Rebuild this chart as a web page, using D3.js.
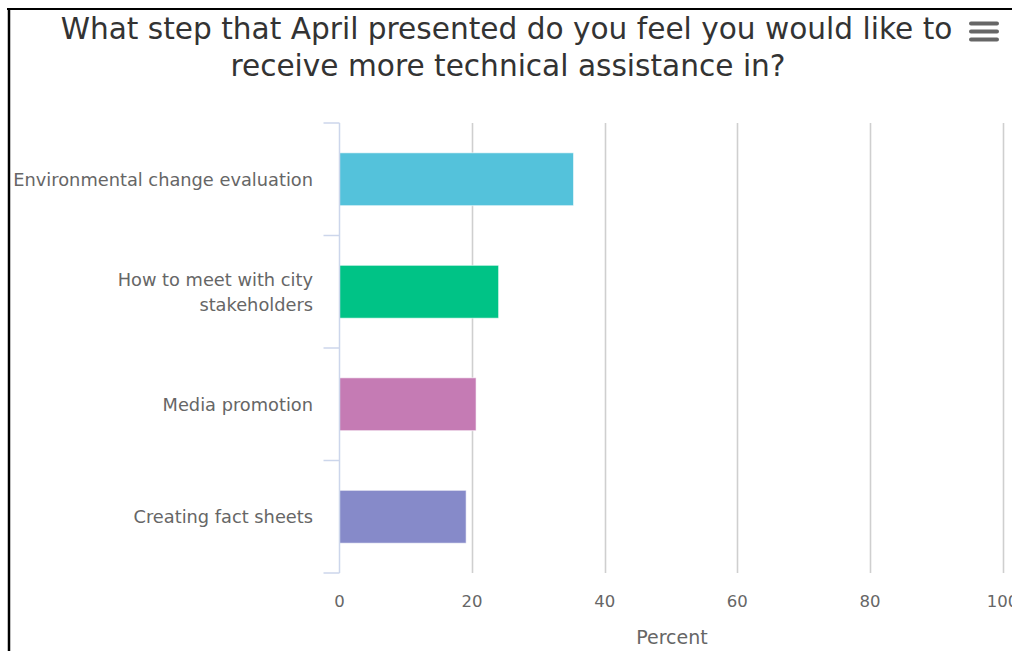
<!DOCTYPE html>
<html>
<head>
<meta charset="utf-8">
<script src="https://cdn.jsdelivr.net/npm/d3@7"></script>
<style>
  html, body { margin: 0; padding: 0; background: #fff; }
  svg { display: block; }
</style>
</head>
<body>
<svg id="chart" width="1012" height="651"></svg>
<script>
const categories = [
  ["Environmental change evaluation"],
  ["How to meet with city", "stakeholders"],
  ["Media promotion"],
  ["Creating fact sheets"]
];
const values = [35.3, 24.0, 20.6, 19.1];
const barColors = ["#54c2db", "#00c386", "#c57bb4", "#868ac9"];
const xTicks = [0, 20, 40, 60, 80, 100];
const titleLines = [
  "What step that April presented do you feel you would like to",
  "receive more technical assistance in?"
];
const xAxisTitle = "Percent";

(function () {
const svg = d3.select("#chart");
const font = "'DejaVu Sans', Verdana, sans-serif";

// frame
svg.append("rect").attr("x", 0).attr("y", 0).attr("width", 1012).attr("height", 651).attr("fill", "#fff");
svg.append("line").attr("x1", 7).attr("x2", 1012).attr("y1", 9).attr("y2", 9).attr("stroke", "#000").attr("stroke-width", 2);
svg.append("line").attr("x1", 9).attr("x2", 9).attr("y1", 8).attr("y2", 651).attr("stroke", "#000").attr("stroke-width", 2.5);

const pLeft = 339.5, pRight = 1002.5, pTop = 123, pBottom = 573;
const x = d3.scaleLinear().domain([0, 100]).range([pLeft, pRight]);
const y = d3.scaleBand().domain(d3.range(categories.length)).range([pTop, pBottom]).paddingInner(0.53).paddingOuter(0.265);
const yb = d3.scaleBand().domain(d3.range(categories.length)).range([pTop, pBottom]);

// gridlines
svg.append("g").selectAll("line").data(xTicks.slice(1)).join("line")
  .attr("x1", d => Math.round(x(d)) + 0.5).attr("x2", d => Math.round(x(d)) + 0.5)
  .attr("y1", pTop).attr("y2", pBottom)
  .attr("stroke", "#cfcfcf").attr("stroke-width", 1.6);

// bars
svg.append("g").selectAll("rect").data(values).join("rect")
  .attr("x", x(0))
  .attr("y", (d, i) => y(i))
  .attr("width", d => x(d) - x(0))
  .attr("height", y.bandwidth())
  .attr("fill", (d, i) => barColors[i])
  .attr("stroke", "#ffffff").attr("stroke-opacity", 0.6).attr("stroke-width", 1);

// y axis line and ticks
const yAxis = svg.append("g");
yAxis.append("line").attr("x1", pLeft).attr("x2", pLeft).attr("y1", pTop).attr("y2", pBottom)
  .attr("stroke", "#ccd6eb").attr("stroke-width", 1.5);
const boundaries = d3.range(categories.length + 1).map(i => i < categories.length ? yb(i) : pBottom);
yAxis.selectAll("line.tick").data(boundaries).join("line").attr("class", "tick")
  .attr("x1", pLeft - 16).attr("x2", pLeft).attr("y1", d => d).attr("y2", d => d)
  .attr("stroke", "#ccd6eb").attr("stroke-width", 1.5);

// category labels
const lbl = svg.append("g").attr("font-family", font).attr("font-size", 17.8).attr("fill", "#666").attr("text-anchor", "end");
categories.forEach((lines, i) => {
  const cy = yb(i) + yb.bandwidth() / 2;
  const lh = 25.5;
  const t = lbl.append("text").attr("x", 313).attr("y", cy - (lines.length - 1) * lh / 2 + 6.5);
  lines.forEach((ln, j) => {
    t.append("tspan").attr("x", 313).attr("dy", j === 0 ? 0 : lh).text(ln);
  });
});

// x tick labels
svg.append("g").selectAll("text").data(xTicks).join("text")
  .attr("x", d => x(d)).attr("y", 607)
  .attr("text-anchor", "middle")
  .attr("font-family", font).attr("font-size", 16.5).attr("fill", "#666")
  .text(d => d);

// axis title
svg.append("text").attr("x", 672).attr("y", 644)
  .attr("text-anchor", "middle").attr("font-family", font).attr("font-size", 19).attr("fill", "#666")
  .text(xAxisTitle);

// title
const tt = svg.append("text").attr("text-anchor", "middle").attr("font-family", font).attr("font-size", 29.6).attr("fill", "#333");
tt.append("tspan").attr("x", 506.5).attr("y", 39).text(titleLines[0]);
tt.append("tspan").attr("x", 508).attr("y", 76).text(titleLines[1]);

// menu icon
svg.append("g").selectAll("line").data([0, 1, 2]).join("line")
  .attr("x1", 971).attr("x2", 997)
  .attr("y1", d => 23.5 + d * 8).attr("y2", d => 23.5 + d * 8)
  .attr("stroke", "#666").attr("stroke-width", 4).attr("stroke-linecap", "round");
})();
</script>
</body>
</html>
